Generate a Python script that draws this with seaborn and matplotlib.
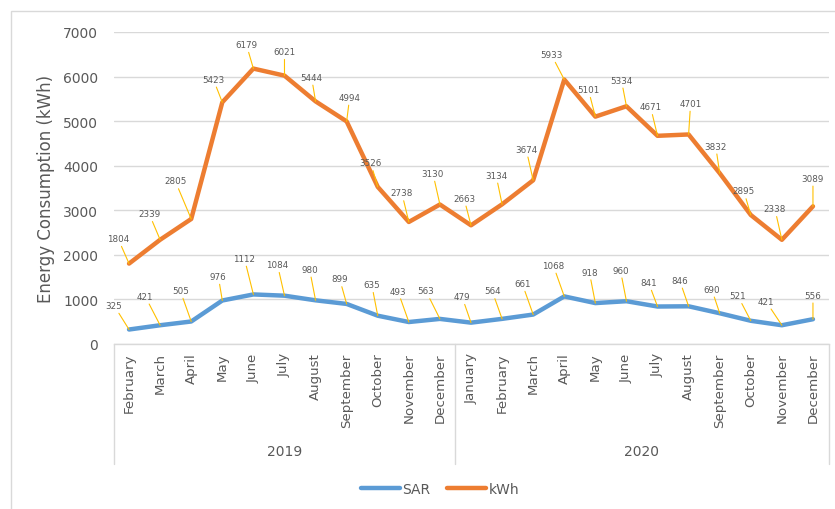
import pandas as pd
import matplotlib
matplotlib.use("Agg")
import matplotlib.pyplot as plt
import matplotlib.transforms as mtransforms
from matplotlib.patches import Rectangle
import seaborn as sns


# DATA
months = ["February", "March", "April", "May", "June", "July", "August",
          "September", "October", "November", "December",
          "January", "February", "March", "April", "May", "June", "July",
          "August", "September", "October", "November", "December"]
years = ["2019"] * 11 + ["2020"] * 12
kwh = [1804, 2339, 2805, 5423, 6179, 6021, 5444, 4994, 3526, 2738, 3130,
       2663, 3134, 3674, 5933, 5101, 5334, 4671, 4701, 3832, 2895, 2338, 3089]
sar = [325, 421, 505, 976, 1112, 1084, 980, 899, 635, 493, 563,
       479, 564, 661, 1068, 918, 960, 841, 846, 690, 521, 421, 556]

# label offsets (pixels) for the data labels
kwh_off = [(-11, 25), (-11, 26), (-16, 38), (-9, 23), (-7, 24), (0, 24), (-4, 24),
           (3, 24), (-7, 24), (-7, 29), (-7, 31), (-7, 27), (-6, 29), (-7, 31),
           (-13, 25), (-7, 27), (-5, 26), (-7, 29), (2, 31), (-4, 27), (-7, 24),
           (-7, 31), (0, 28)]
sar_off = [(-15, 24), (-15, 29), (-11, 31), (-4, 24), (-9, 36), (-7, 31), (-6, 31),
           (-7, 25), (-6, 31), (-11, 31), (-14, 28), (-9, 26), (-10, 28), (-11, 31),
           (-11, 31), (-6, 31), (-6, 31), (-9, 24), (-9, 26), (-8, 24), (-13, 25),
           (-16, 24), (0, 24)]

idx = list(range(len(months)))
df = pd.DataFrame({
    "pos": idx * 2,
    "value": sar + kwh,
    "series": ["SAR"] * len(sar) + ["kWh"] * len(kwh),
})

GRAY = "#595959"
GRID = "#D9D9D9"
BLUE = "#5B9BD5"
ORANGE = "#ED7D31"
LEADER = "#FFC000"

sns.set_style("white")
plt.rcParams["font.family"] = ["DejaVu Sans"]

fig = plt.figure(figsize=(8.35, 5.1), dpi=100)
ax = fig.add_axes([113.5 / 835, 1 - 345 / 510, 715 / 835, 312 / 510])

sns.lineplot(data=df, x="pos", y="value", hue="series",
             hue_order=["SAR", "kWh"], palette=[BLUE, ORANGE],
             linewidth=3.2, ax=ax, legend=True)

ax.set_xlim(-0.5, len(months) - 0.5)
ax.set_ylim(0, 7000)
ax.set_yticks(range(0, 7001, 1000))
ax.yaxis.grid(True, color=GRID, linewidth=1)
ax.set_axisbelow(True)
for s in ["left", "right", "top"]:
    ax.spines[s].set_visible(False)
ax.spines["bottom"].set_color(GRID)
ax.spines["bottom"].set_linewidth(1)

ax.set_xticks(idx)
ax.set_xticklabels(months, rotation=90, fontsize=9.6, color=GRAY)
ax.tick_params(axis="x", length=0, pad=6)
ax.tick_params(axis="y", length=0, pad=11, labelsize=10, labelcolor=GRAY)
ax.set_xlabel("")
ax.set_ylabel("Energy Consumption (kWh)", fontsize=12, color=GRAY, labelpad=6)

# multi-level category axis
trans = mtransforms.blended_transform_factory(ax.transData, ax.transAxes)
for xv in [-0.5, 10.5, len(months) - 0.5]:
    ax.plot([xv, xv], [0, -0.385], color=GRID, lw=1, transform=trans, clip_on=False)
ax.text(5, -0.343, "2019", transform=trans, ha="center", va="center",
        fontsize=10, color=GRAY)
ax.text(16.5, -0.343, "2020", transform=trans, ha="center", va="center",
        fontsize=10, color=GRAY)

# data labels with leader lines
for vals, offs in [(kwh, kwh_off), (sar, sar_off)]:
    for i, (v, (dx, dy)) in enumerate(zip(vals, offs)):
        ax.annotate(str(v), xy=(i, v), xytext=(dx, dy), textcoords="offset pixels",
                    ha="center", va="center", fontsize=6.3, color=GRAY,
                    arrowprops=dict(arrowstyle="-", color=LEADER, lw=0.8,
                                    shrinkA=0, shrinkB=0))

sns.move_legend(ax, "center", bbox_to_anchor=(440 / 835, 1 - 490 / 510),
                bbox_transform=fig.transFigure, ncol=2, frameon=False, title=None,
                fontsize=10, handlelength=2.8, columnspacing=1.2, handletextpad=0.2,
                labelcolor=GRAY)

# chart border
fig.patches.append(Rectangle((11 / 835, -0.1), 2, 1 - 12 / 510 + 0.1,
                             transform=fig.transFigure, fill=False,
                             edgecolor=GRID, linewidth=1))

fig.savefig("out.png", dpi=100)
